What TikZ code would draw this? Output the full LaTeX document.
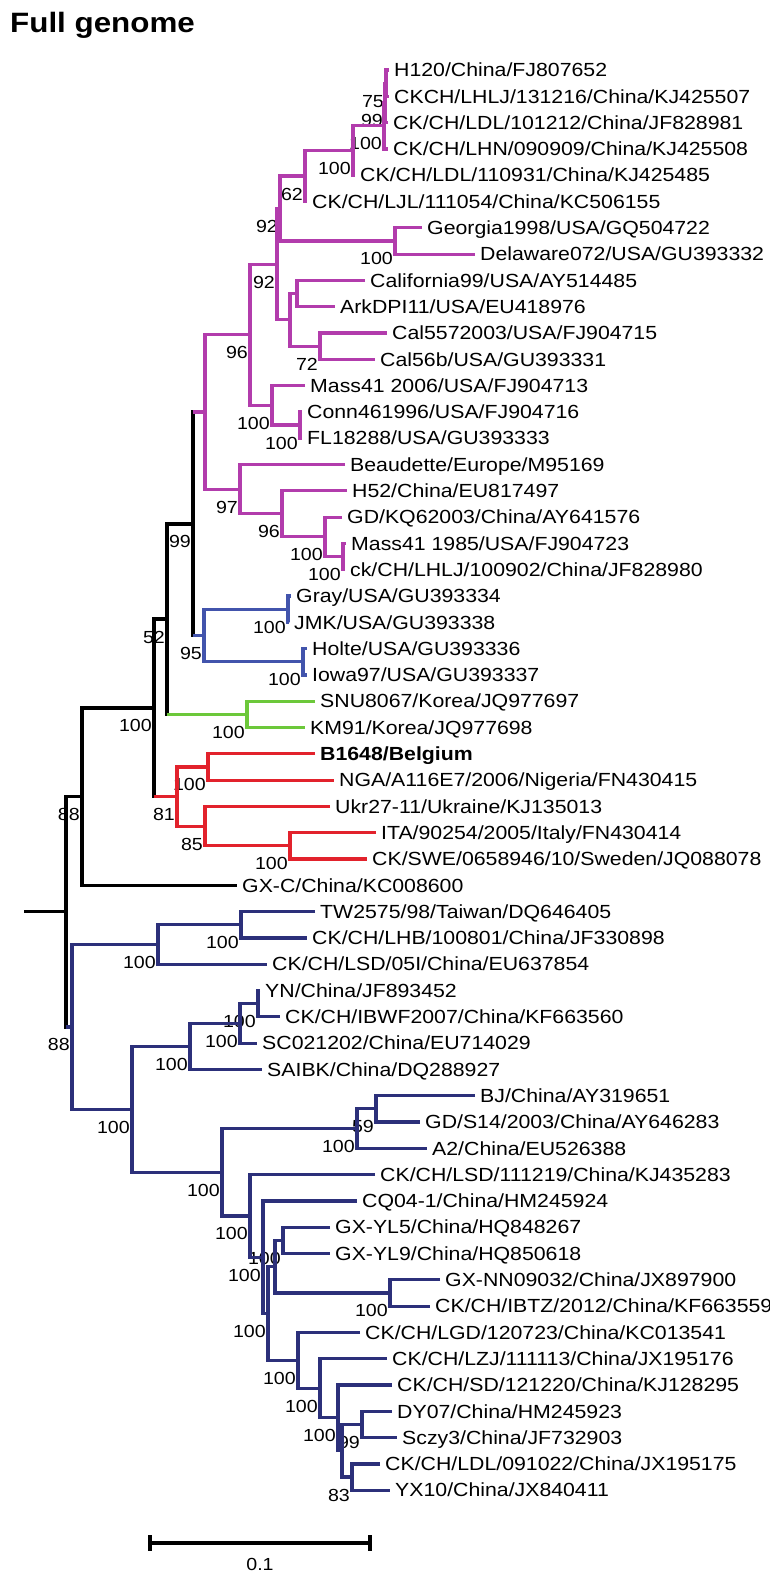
\documentclass[tikz,border=0pt]{standalone}
\usepackage{fontspec}
\setmainfont{Liberation Sans}[FakeStretch=1.12]
\usetikzlibrary{calc}
\definecolor{magclade}{RGB}{178,60,172}
\definecolor{bluclade}{RGB}{66,84,172}
\definecolor{grnclade}{RGB}{108,200,58}
\definecolor{redclade}{RGB}{226,34,44}
\definecolor{navclade}{RGB}{44,48,122}
\tikzset{
  br/.style={line width=3.2pt},
  blk/.style={br, draw=black, line width=3.6pt},
  mag/.style={br, draw=magclade},
  blu/.style={br, draw=bluclade},
  grn/.style={br, draw=grnclade},
  rdc/.style={br, draw=redclade},
  nav/.style={br, draw=navclade},
  leaf/.style={anchor=west, inner xsep=5pt, inner ysep=0pt, text height=13.5pt, text depth=0pt, font=\fontsize{19}{22}\selectfont},
  bs/.style={anchor=east, inner sep=0pt, xshift=-2pt, yshift=-18pt, font=\fontsize{17.5}{20}\selectfont}
}
% clade: [style](name)(x)(upper child)(lower child){bootstrap}
\def\clade[#1](#2)(#3)(#4)(#5)#6{%
  \coordinate (#2) at ($(#4 -| origin)!0.5!(#5 -| origin)+(#3,0)$);
  \draw[#1] (#4) -- (#4 -| #2) -- (#5 -| #2) -- (#5);
  \if\relax\detokenize{#6}\relax\else\node[bs] (b#2) at (#2) {#6};\fi}

\begin{document}
\begin{tikzpicture}[x=1pt,y=1pt]
		%%%%% FRAME %%%%%
		\useasboundingbox (0,0) rectangle (770,-1577);
		\coordinate (origin) at (0,0);
		\node[anchor=base west, inner sep=0pt, font=\bfseries\fontsize{28}{32}\selectfont] (title) at (10,-32) {Full genome};
		
		%%%%% LEAVES %%%%%
		\node[leaf] (l1) at (389,-70.0) {H120/China/FJ807652};
		\node[leaf] (l2) at (389,-96.3) {CKCH/LHLJ/131216/China/KJ425507};
		\node[leaf] (l3) at (388,-122.6) {CK/CH/LDL/101212/China/JF828981};
		\node[leaf] (l4) at (388,-148.9) {CK/CH/LHN/090909/China/KJ425508};
		\node[leaf] (l5) at (355,-175.2) {CK/CH/LDL/110931/China/KJ425485};
		\node[leaf] (l6) at (307,-201.5) {CK/CH/LJL/111054/China/KC506155};
		\node[leaf] (l7) at (422,-227.8) {Georgia1998/USA/GQ504722};
		\node[leaf] (l8) at (475,-254.1) {Delaware072/USA/GU393332};
		\node[leaf] (l9) at (365,-280.4) {California99/USA/AY514485};
		\node[leaf] (l10) at (335,-306.7) {ArkDPI11/USA/EU418976};
		\node[leaf] (l11) at (387,-333.0) {Cal5572003/USA/FJ904715};
		\node[leaf] (l12) at (375,-359.3) {Cal56b/USA/GU393331};
		\node[leaf] (l13) at (305,-385.6) {Mass41 2006/USA/FJ904713};
		\node[leaf] (l14) at (302,-411.9) {Conn461996/USA/FJ904716};
		\node[leaf] (l15) at (302,-438.2) {FL18288/USA/GU393333};
		\node[leaf] (l16) at (345,-464.5) {Beaudette/Europe/M95169};
		\node[leaf] (l17) at (347,-490.8) {H52/China/EU817497};
		\node[leaf] (l18) at (342,-517.1) {GD/KQ62003/China/AY641576};
		\node[leaf] (l19) at (346,-543.4) {Mass41 1985/USA/FJ904723};
		\node[leaf] (l20) at (345,-569.7) {ck/CH/LHLJ/100902/China/JF828980};
		\node[leaf] (l21) at (291,-596.0) {Gray/USA/GU393334};
		\node[leaf] (l22) at (289,-622.3) {JMK/USA/GU393338};
		\node[leaf] (l23) at (307,-648.6) {Holte/USA/GU393336};
		\node[leaf] (l24) at (307,-674.9) {Iowa97/USA/GU393337};
		\node[leaf] (l25) at (315,-701.2) {SNU8067/Korea/JQ977697};
		\node[leaf] (l26) at (305,-727.5) {KM91/Korea/JQ977698};
		\node[leaf] (l27) at (315,-753.8) {\textbf{B1648/Belgium}};
		\node[leaf] (l28) at (334,-780.1) {NGA/A116E7/2006/Nigeria/FN430415};
		\node[leaf] (l29) at (330,-806.4) {Ukr27-11/Ukraine/KJ135013};
		\node[leaf] (l30) at (376,-832.7) {ITA/90254/2005/Italy/FN430414};
		\node[leaf] (l31) at (367,-859.0) {CK/SWE/0658946/10/Sweden/JQ088078};
		\node[leaf] (l32) at (237,-885.3) {GX-C/China/KC008600};
		\node[leaf] (l33) at (315,-911.6) {TW2575/98/Taiwan/DQ646405};
		\node[leaf] (l34) at (307,-937.9) {CK/CH/LHB/100801/China/JF330898};
		\node[leaf] (l35) at (267,-964.2) {CK/CH/LSD/05I/China/EU637854};
		\node[leaf] (l36) at (260,-990.5) {YN/China/JF893452};
		\node[leaf] (l37) at (280,-1016.8) {CK/CH/IBWF2007/China/KF663560};
		\node[leaf] (l38) at (257,-1043.1) {SC021202/China/EU714029};
		\node[leaf] (l39) at (262,-1069.4) {SAIBK/China/DQ288927};
		\node[leaf] (l40) at (475,-1095.7) {BJ/China/AY319651};
		\node[leaf] (l41) at (420,-1122.0) {GD/S14/2003/China/AY646283};
		\node[leaf] (l42) at (427,-1148.3) {A2/China/EU526388};
		\node[leaf] (l43) at (375,-1174.6) {CK/CH/LSD/111219/China/KJ435283};
		\node[leaf] (l44) at (357,-1200.9) {CQ04-1/China/HM245924};
		\node[leaf] (l45) at (330,-1227.2) {GX-YL5/China/HQ848267};
		\node[leaf] (l46) at (330,-1253.5) {GX-YL9/China/HQ850618};
		\node[leaf] (l47) at (440,-1279.8) {GX-NN09032/China/JX897900};
		\node[leaf] (l48) at (430,-1306.1) {CK/CH/IBTZ/2012/China/KF663559};
		\node[leaf] (l49) at (360,-1332.4) {CK/CH/LGD/120723/China/KC013541};
		\node[leaf] (l50) at (387,-1358.7) {CK/CH/LZJ/111113/China/JX195176};
		\node[leaf] (l51) at (392,-1385.0) {CK/CH/SD/121220/China/KJ128295};
		\node[leaf] (l52) at (392,-1411.3) {DY07/China/HM245923};
		\node[leaf] (l53) at (397,-1437.6) {Sczy3/China/JF732903};
		\node[leaf] (l54) at (380,-1463.9) {CK/CH/LDL/091022/China/JX195175};
		\node[leaf] (l55) at (390,-1490.2) {YX10/China/JX840411};
		
		%%%%% MAGENTA %%%%%
		\clade[mag](n75)(386)(l1)(l2){75}
		\clade[mag](n99t)(385)(n75)(l3){99}
		\clade[mag](n100t)(384)(n99t)(l4){100}
		\clade[mag](n100a)(353)(n100t)(l5){100}
		\clade[mag](n62)(305)(n100a)(l6){62}
		\clade[mag](nGD)(395)(l7)(l8){100}
		\clade[mag](n92a)(280)(n62)(nGD){92}
		\clade[mag](nCA)(297)(l9)(l10){}
		\clade[mag](n72)(320)(l11)(l12){72}
		\clade[mag](nCal)(290)(nCA)(n72){}
		\clade[mag](n92b)(277)(n92a)(nCal){92}
		\clade[mag](nCF)(300)(l14)(l15){100}
		\clade[mag](nMass)(272)(l13)(nCF){100}
		\clade[mag](n96)(250)(n92b)(nMass){96}
		\clade[mag](n100d)(343)(l19)(l20){100}
		\clade[mag](n100c)(325)(l18)(n100d){100}
		\clade[mag](n96b)(282)(l17)(n100c){96}
		\clade[mag](n97)(240)(l16)(n96b){97}
		\clade[mag](M1)(205)(n96)(n97){}
		
		%%%%% BLUE, GREEN, RED %%%%%
		\clade[blu](nGJ)(288)(l21)(l22){100}
		\clade[blu](nHI)(303)(l23)(l24){100}
		\clade[blu](n95)(204)(nGJ)(nHI){95}
		\clade[blk](D)(193)(M1)(n95){99}
		\draw[mag] (M1) -- (M1 -| D);
		\draw[blu] (n95) -- (n95 -| D);
		
		\clade[grn](nSK)(247)(l25)(l26){100}
		\clade[blk](C)(167)(D)(nSK){52}
		\draw[grn] (nSK) -- (nSK -| C);
		
		\clade[rdc](n100r)(208)(l27)(l28){100}
		\clade[rdc](n100s)(290)(l30)(l31){100}
		\clade[rdc](n85)(205)(l29)(n100s){85}
		\clade[rdc](R)(177)(n100r)(n85){81}
		\clade[blk](B)(154)(C)(R){100}
		\draw[rdc] (R) -- (R -| B);
		\clade[blk](A)(82)(B)(l32){88}
		
		%%%%% NAVY %%%%%
		\clade[nav](nTL)(241)(l33)(l34){100}
		\clade[nav](n100e)(158)(nTL)(l35){100}
		\clade[nav](nYI)(258)(l36)(l37){100}
		\clade[nav](n100g)(240)(nYI)(l38){100}
		\clade[nav](nYN)(190)(n100g)(l39){100}
		\clade[nav](n59)(376)(l40)(l41){59}
		\clade[nav](nBJ)(357)(n59)(l42){100}
		\clade[nav](nYL)(283)(l45)(l46){100}
		\clade[nav](nNN)(390)(l47)(l48){100}
		\clade[nav](n275)(275)(nYL)(nNN){}
		\clade[nav](nDS)(362)(l52)(l53){99}
		\clade[nav](nLY)(352)(l54)(l55){83}
		\clade[nav](nQ)(342)(nDS)(nLY){}
		\clade[nav](n335)(338)(l51)(nQ){100}
		\clade[nav](n320)(320)(l50)(n335){100}
		\clade[nav](n298)(298)(l49)(n320){100}
		\clade[nav](n270)(268)(n275)(n298){100}
		\clade[nav](n263)(263)(l44)(n270){100}
		\clade[nav](n100h)(250)(l43)(n263){100}
		\clade[nav](nBig)(222)(nBJ)(n100h){100}
		\clade[nav](n100f)(132)(nYN)(nBig){100}
		\clade[nav](N2)(72)(n100e)(n100f){88}
		
		%%%%% ROOT %%%%%
		\clade[blk](root)(66)(A)(N2){}
		\draw[nav] (N2) -- (N2 -| root);
		\coordinate (stub) at (24,0);
		\draw[blk, line width=3.2pt] (root) -- (root -| stub);
		
		%%%%% SCALE %%%%%
		\coordinate (sb1) at (150,-1543);
		\coordinate (sb2) at (370,-1543);
		\draw[blk] (sb1) -- (sb2);
		\draw[blk] ([yshift=8pt]sb1) -- ([yshift=-8pt]sb1);
		\draw[blk] ([yshift=8pt]sb2) -- ([yshift=-8pt]sb2);
		\node[font=\fontsize{17.5}{20}\selectfont, inner sep=0pt] (sblabel) at (260,-1564) {0.1};
\end{tikzpicture}
\end{document}
